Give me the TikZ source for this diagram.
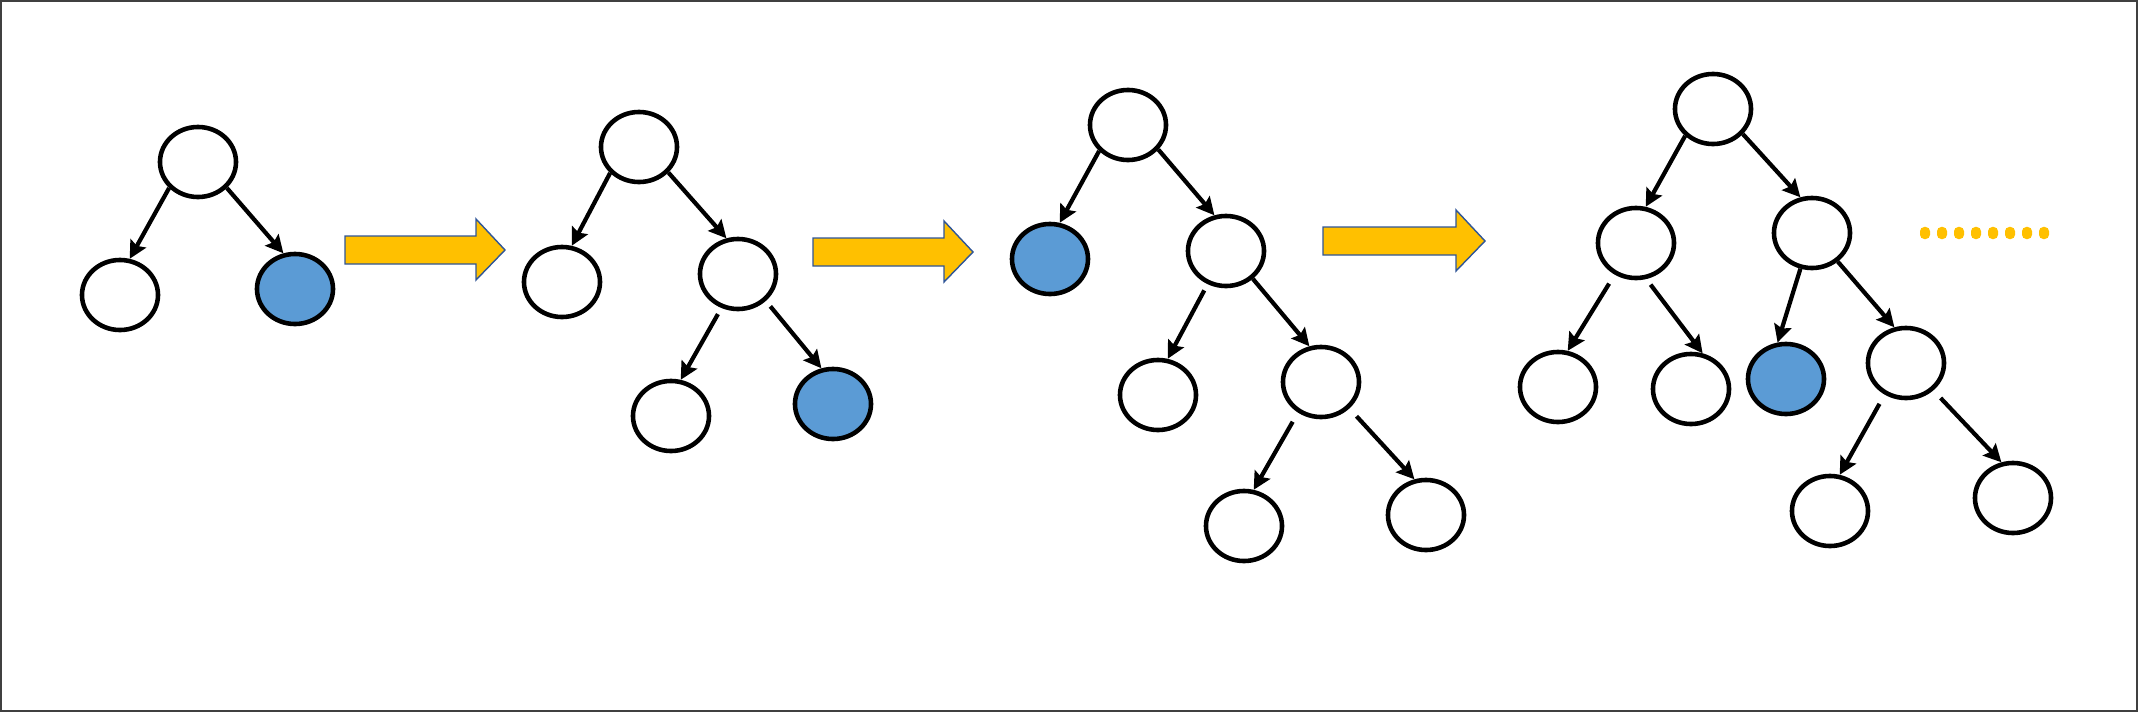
\documentclass[tikz,border=0pt]{standalone}
\usetikzlibrary{arrows.meta, shapes.geometric}
\definecolor{leafblue}{HTML}{5B9BD5}
\definecolor{stepyellow}{HTML}{FFC000}
\definecolor{stepedge}{HTML}{2F5597}
\definecolor{frame}{HTML}{404040}
\tikzset{
  tnode/.style={ellipse, draw=black, fill=#1, line width=1.3pt, inner sep=0pt,
                minimum width=0.76cm, minimum height=0.70cm},
  tnode/.default=white,
  arr/.style={-{Stealth[length=5pt, width=5pt, inset=0.8pt]}, line width=1.2pt},
  bigarrow/.style={fill=stepyellow, draw=stepedge, line width=0.4pt, line join=miter},
  dotbox/.style={rectangle, rounded corners=1.2pt, fill=stepyellow, inner sep=0pt,
                 minimum width=0.1cm, minimum height=0.12cm},
}
\begin{document}
\begin{tikzpicture}[x=0.01cm, y=-0.01cm]
  \useasboundingbox (0,0) rectangle (2138,712);
  \draw[frame, line width=0.8pt] (1,1) rectangle (2137,711);

  % first tree
  \node[tnode] (aroot) at (198,162) {};
  \node[tnode] (al) at (120,295) {};
  \node[tnode=leafblue] (ar) at (295,289) {};
  \draw[arr] (aroot.-138) -- (al.75);
  \draw[arr] (aroot.-42) -- (ar.108);

  \draw[bigarrow] (345,236) -- (476,236) -- (476,219) -- (505,250) -- (476,280)
    -- (476,264) -- (345,264) -- cycle;

  % second tree
  \node[tnode] (broot) at (639,147) {};
  \node[tnode] (bl) at (562,282) {};
  \node[tnode] (br) at (738,274) {};
  \node[tnode] (brl) at (671,416) {};
  \node[tnode=leafblue] (brr) at (833,404) {};
  \draw[arr] (broot.-138) -- (bl.75);
  \draw[arr] (broot.-41) -- (br.108);
  \draw[arr, shorten <=2pt] (br.-116) -- (brl.75);
  \draw[arr, shorten <=2pt] (br.-44) -- (brr.108);

  \draw[bigarrow] (813,238) -- (944,238) -- (944,221) -- (973,252) -- (944,282)
    -- (944,266) -- (813,266) -- cycle;

  % third tree
  \node[tnode] (croot) at (1128,125) {};
  \node[tnode=leafblue] (cl) at (1050,259) {};
  \node[tnode] (cr) at (1226,251) {};
  \node[tnode] (crl) at (1158,395) {};
  \node[tnode] (crr) at (1321,382) {};
  \node[tnode] (crrl) at (1244,526) {};
  \node[tnode] (crrr) at (1426,515) {};
  \draw[arr] (croot.-138) -- (cl.75);
  \draw[arr] (croot.-39) -- (cr.108);
  \draw[arr, shorten <=2pt] (cr.-119) -- (crl.75);
  \draw[arr] (cr.-46) -- (crr.108);
  \draw[arr, shorten <=3pt] (crr.-127) -- (crrl.75);
  \draw[arr, shorten <=3pt] (crr.-43) -- (crrr.108);

  \draw[bigarrow] (1323,227) -- (1456,227) -- (1456,210) -- (1485,241) -- (1456,271)
    -- (1456,255) -- (1323,255) -- cycle;

  % fourth tree
  \node[tnode] (droot) at (1713,109) {};
  \node[tnode] (dl) at (1636,243) {};
  \node[tnode] (dr) at (1812,233) {};
  \node[tnode] (dll) at (1558,387) {};
  \node[tnode] (dlr) at (1691,389) {};
  \node[tnode=leafblue] (drl) at (1786,379) {};
  \node[tnode] (drr) at (1906,363) {};
  \node[tnode] (drrl) at (1830,511) {};
  \node[tnode] (drrr) at (2013,498) {};
  \draw[arr] (droot.-136) -- (dl.75);
  \draw[arr] (droot.-40) -- (dr.108);
  \draw[arr, shorten <=3pt] (dl.-124) -- (dll.75);
  \draw[arr, shorten <=2pt] (dl.-74) -- (dlr.72);
  \draw[arr] (dr.-108) -- (drl.103);
  \draw[arr] (dr.-48) -- (drr.108);
  \draw[arr, shorten <=3pt] (drr.-124) -- (drrl.75);
  \draw[arr, shorten <=3pt] (drr.-45) -- (drrr.108);

  % more steps
  \foreach \i in {0,...,7}
    \node[dotbox] (dot\i) at (1925+17*\i,233) {};
\end{tikzpicture}
\end{document}
